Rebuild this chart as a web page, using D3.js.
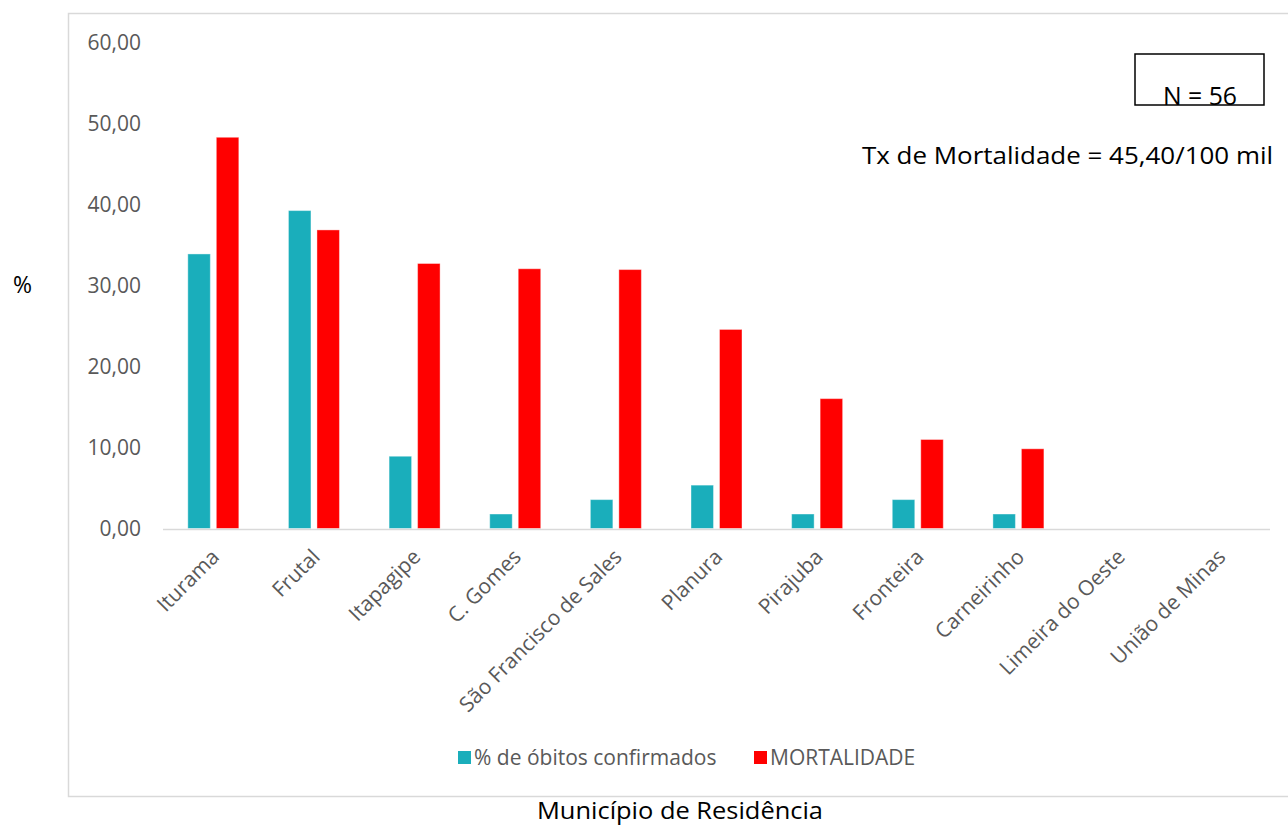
<!DOCTYPE html>
<html><head><meta charset="utf-8">
<script src="https://cdn.jsdelivr.net/npm/d3@7"></script>
<style>body{margin:0;background:#fff;} svg{display:block;}</style>
</head><body>
<script>
const categories = ["Iturama","Frutal","Itapagipe","C. Gomes","São Francisco de Sales","Planura","Pirajuba","Fronteira","Carneirinho","Limeira do Oeste","União de Minas"];
const obitos = [33.93,39.29,8.93,1.79,3.57,5.36,1.79,3.57,1.79,0,0];
const mortalidade = [48.35,36.9,32.75,32.1,32.0,24.6,16.05,11.0,9.85,0,0];
const yTicks = [0,10,20,30,40,50,60];
const seriesNames = ["% de óbitos confirmados","MORTALIDADE"];
const colors = ["#1AAEBB","#FF0000"];

const W=1288,H=826;
const svg=d3.select("body").append("svg").attr("width",W).attr("height",H);
const font="'Open Sans', sans-serif";
const gray="#595959";

// outer chart border
svg.append("path").attr("d","M1290,13.5 H68.5 V796.5 H1290").attr("fill","none").attr("stroke","#D9D9D9").attr("stroke-width",1.5);

const x0=d3.scaleBand().domain(categories).range([163,1270]).paddingInner(0).paddingOuter(0);
const y=d3.scaleLinear().domain([0,60]).range([528.5,43]);

// y tick labels
svg.append("g").selectAll("text").data(yTicks).join("text")
  .attr("x",141).attr("y",d=>y(d)).attr("dy","0.35em").attr("text-anchor","end")
  .attr("font-family",font).attr("font-size",21).attr("fill",gray)
  .text(d=>d3.format(".2f")(d).replace(".",","));

// bars
const bw=22.5, gap=6;
const series=[obitos,mortalidade];
series.forEach((vals,si)=>{
  svg.append("g").selectAll("rect").data(categories).join("rect")
    .attr("x",(c)=>x0(c)+x0.bandwidth()/2 + (si===0? -gap/2-bw : gap/2))
    .attr("y",(c,i)=>y(vals[i]))
    .attr("width",bw)
    .attr("height",(c,i)=>y(0)-y(vals[i]))
    .attr("fill",colors[si])
    .attr("stroke","#ffffff").attr("stroke-opacity",0.4).attr("stroke-width",1)
    .attr("display",(c,i)=>vals[i]>0?null:"none");
});

// x axis line
svg.append("line").attr("x1",163).attr("x2",1270).attr("y1",529.5).attr("y2",529.5).attr("stroke","#D9D9D9").attr("stroke-width",1.5);

// x labels
svg.append("g").selectAll("text").data(categories).join("text")
  .attr("transform",c=>`translate(${x0(c)+x0.bandwidth()/2+2},${553}) rotate(-45)`)
  .attr("text-anchor","end").attr("dy","0.35em")
  .attr("font-family",font).attr("font-size",21).attr("fill",gray)
  .text(c=>c);

// legend
const lg=svg.append("g");
const legX=[458,754];
seriesNames.forEach((n,i)=>{
  lg.append("rect").attr("x",legX[i]).attr("y",751).attr("width",13).attr("height",13).attr("fill",colors[i]);
  lg.append("text").attr("x",legX[i]+16).attr("y",758).attr("dy","0.35em")
    .attr("font-family",font).attr("font-size",21).attr("fill",gray).text(n);
});

// % label
svg.append("text").attr("x",22.5).attr("y",285).attr("dy","0.35em").attr("text-anchor","middle")
  .attr("font-family",font).attr("font-size",23).attr("fill","#000").text("%");

// N box
svg.append("rect").attr("x",1135).attr("y",54).attr("width",129).attr("height",51).attr("fill","none").attr("stroke","#000").attr("stroke-width",1.5);
svg.append("text").attr("x",1200).attr("y",105).attr("text-anchor","middle")
  .attr("font-family",font).attr("font-size",25).attr("fill","#000")
  .attr("textLength",74).attr("lengthAdjust","spacingAndGlyphs").text("N = 56");

svg.append("text").attr("x",862).attr("y",164)
  .attr("font-family",font).attr("font-size",24).attr("fill","#000")
  .attr("textLength",411).attr("lengthAdjust","spacingAndGlyphs")
  .text("Tx de Mortalidade = 45,40/100 mil");

svg.append("text").attr("x",680).attr("y",819).attr("text-anchor","middle")
  .attr("font-family",font).attr("font-size",24).attr("fill","#000")
  .attr("textLength",286).attr("lengthAdjust","spacingAndGlyphs")
  .text("Município de Residência");
</script>
</body></html>
